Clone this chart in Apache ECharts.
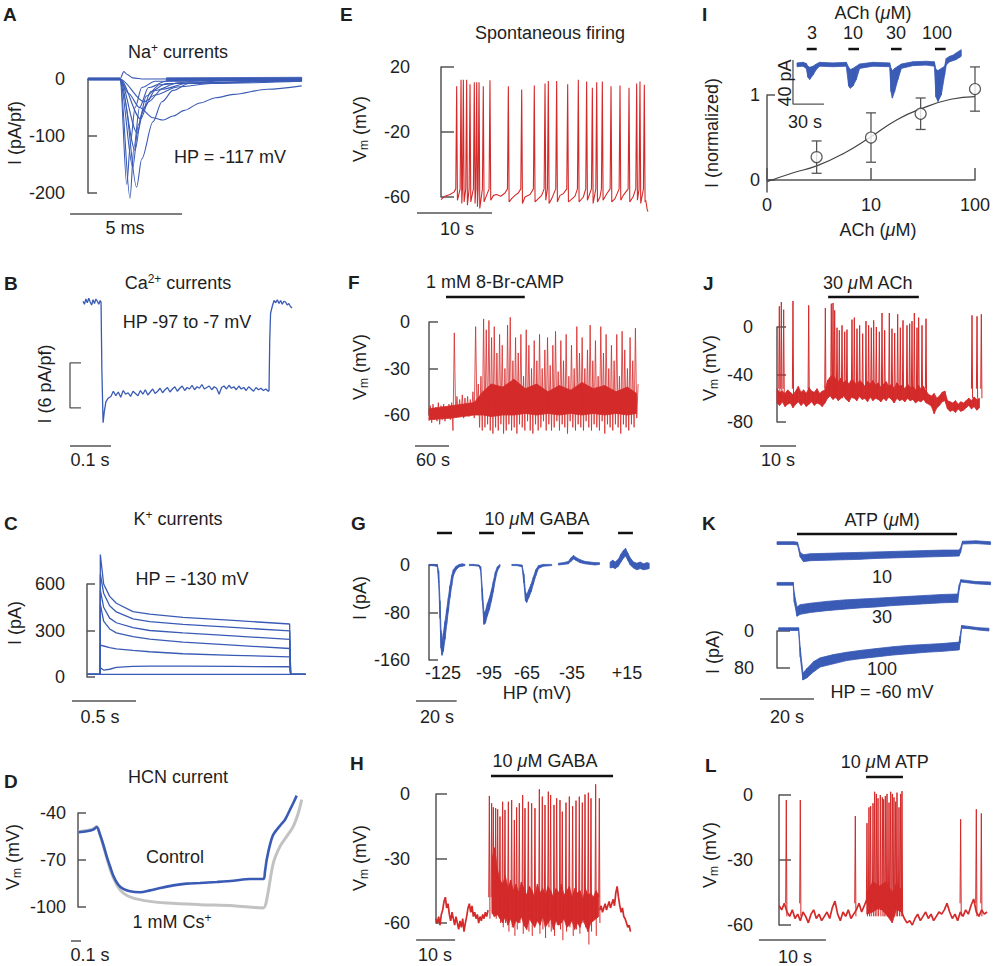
<!DOCTYPE html>
<html>
<head>
<meta charset="utf-8">
<script src="https://cdn.jsdelivr.net/npm/echarts@6/dist/echarts.min.js"></script>
<style>
html, body { margin: 0; background: #fff; }
#chart { width: 999px; height: 966px; }
</style>
</head>
<body>
<div id="chart"></div>
<script>
// ---------- data ----------

// A: Na+ currents, [ms, pA/pF]
var naTraces = [
    [[0,0],[1.43,0],[1.6,13],[1.75,8],[2.0,2],[2.5,0],[9.54,1]],
    [[0,0],[1.43,0],[1.73,-185],[1.9,-110],[2.1,-50],[2.4,-15],[3,-4],[5,-1],[9.54,0]],
    [[0,0],[1.43,0],[1.875,-209],[2.05,-120],[2.3,-50],[2.7,-15],[3.5,-4],[9.54,0]],
    [[0,0],[1.43,0],[1.6,-30],[2.17,-190],[2.4,-140],[2.9,-75],[3.3,-40],[3.8,-20],[4.5,-8],[6,-3],[9.54,-1]],
    [[0,0],[1.43,0],[1.8,-25],[2.3,-50],[2.9,-68],[3.36,-72],[3.8,-65],[4.3,-55],[5,-42],[5.7,-33],[6.5,-27],[8,-18],[9.54,-12]],
    [[0,0],[1.43,0],[2.0,-155],[2.25,-80],[2.6,-30],[3.2,-10],[5,-3],[9.54,0]],
    [[0,0],[1.43,0],[2.1,-125],[2.4,-60],[2.8,-22],[3.5,-8],[9.54,-1]],
    [[0,0],[1.43,0],[2.2,-95],[2.5,-50],[3.0,-20],[4,-7],[9.54,-2]],
    [[0,0],[1.43,0],[2.35,-70],[2.7,-40],[3.3,-18],[4.5,-7],[9.54,-3]],
    [[0,0],[1.43,0],[2.5,-40],[3.0,-28],[4.0,-14],[5.5,-8],[9.54,-4]]
];
var naNoise = [[[0,2,-2],[1.43,2,-2]], [[3.5,2,-3],[9.54,3,-4]]];

// B: Ca2+ current, [s, pA/pF]
var bPre = [0.1,-0.3,0.4,-0.1,0.5,0.0,-0.4,0.3,-0.2,0.4,0.1,-0.3,0.2];
var bPreDt = 0.0035;
var bOn = [[0.044,0],[0.046,-9],[0.049,-16.1],[0.052,-14.6],[0.056,-13.3],[0.062,-12.8]];
var bPlateau = [-12.6,-11.9,-12.5,-12.0,-12.7,-11.8,-12.3,-12.1,-12.6,-11.9,
    -12.2,-12.5,-11.8,-12.3,-11.7,-12.4,-12.0,-11.6,-12.2,-11.9,
    -11.5,-12.1,-11.7,-11.4,-12.0,-11.6,-11.3,-11.9,-11.5,-11.2,
    -11.8,-11.4,-11.6,-11.1,-11.7,-11.3,-11.5,-11.0,-11.6,-11.4,
    -11.2,-11.7,-11.3,-11.5,-12.3,-11.4,-11.2,-11.6,-11.1,-11.5,
    -11.3,-11.7,-11.2,-11.6,-11.4,-11.8,-11.3,-11.6,-11.9,-11.4,
    -11.7,-11.5,-11.8,-11.6,-11.9];
var bPlateauT0 = 0.068, bPlateauDt = 0.006;
var bOff = [[0.4537,-11.8],[0.4555,-5],[0.4575,-1.5],[0.462,-0.5],[0.466,0.2]];
var bPost = [-0.1,0.3,-0.2,0.2,-0.3,0.1,0.0,-0.4,-0.2,-0.6,-0.8];
var bPostT0 = 0.47, bPostDt = 0.004;

// C: K+ currents, [s, pA]
var cTime = [0,0.103,0.104,0.130,0.177,0.229,0.359,0.490,0.75,1.14,1.583,1.591,1.708];
var cTraces = [
    [17,17,790,600,520,476,422,405,385,365,342,17,17],
    [17,17,665,540,460,420,375,357,340,320,297,17,17],
    [17,17,560,450,380,350,318,300,285,265,243,17,17],
    [17,17,470,360,310,285,260,245,225,205,184,17,17],
    [17,17,205,200,190,182,172,163,150,140,130,17,17],
    [17,17,60,45,50,62,68,70,70,68,66,17,17],
    [17,17,17,17,17,17,17,17,17,17,17,17,17]
];

// D: HCN, [s, mV]
var dControl = [[0.003,-52.3],[0.087,-51.7],[0.153,-50.6],[0.187,-48.9],[0.22,-53.8],[0.253,-60.2],[0.287,-67.7],[0.32,-74],[0.353,-80],[0.403,-85.8],[0.453,-88.5],[0.52,-90],[0.62,-90.6],[0.72,-89.4],[0.82,-87.9],[0.953,-86.2],[1.087,-85.1],[1.22,-84.7],[1.387,-84],[1.553,-83.2],[1.72,-82.1],[1.853,-82.1],[1.87,-77.2],[1.887,-69.8],[1.92,-60.2],[1.953,-53.8],[2.02,-48.1],[2.07,-44.3],[2.12,-37.9],[2.153,-33.6],[2.187,-28.9]];
var dCs = [[0.003,-52],[0.087,-51.2],[0.153,-50.2],[0.187,-48.6],[0.22,-53.8],[0.253,-60.9],[0.32,-75.7],[0.387,-85.8],[0.453,-91.1],[0.553,-94.3],[0.72,-96.4],[0.887,-97.5],[1.22,-98.5],[1.553,-99.2],[1.853,-100.6],[1.887,-95.3],[1.953,-72],[2.02,-61.3],[2.087,-54.9],[2.153,-48.5],[2.203,-40],[2.237,-31.5]];

// E: spontaneous firing, [s, mV]
var eBase = [[0,-61.6],[0.53,-59.5],[1.2,-58.5],[1.73,-57],[7.0,-59],[7.42,-58.5],[7.96,-59.5],[8.53,-57.5],[9.42,-61],[9.87,-59],[10.3,-57.5],[11.2,-60],[11.87,-58.5],[12.98,-61],[13.42,-59],[14.76,-61],[15.87,-59],[16.3,-58],[17.4,-61.5],[17.87,-59.5],[18.98,-60],[21.2,-60],[22.1,-58],[23.2,-61],[24.3,-59],[25.6,-60],[27.3,-62],[27.5,-68],[27.6,-69]];
var eSpikeT = [2.09,2.67,2.98,3.42,3.87,4.44,4.76,5.07,5.64,6.53,8.98,10.76,12.44,13.87,14.31,15.42,16.89,18.31,19.42,20.18,20.76,21.51,22.67,23.87,25.07,26.09,26.53,27.11];
var eSpikeV = [8.2,12.2,12.2,12.2,9.4,10.6,10.6,10.6,8.2,11.8,8.2,6.1,8.6,9.8,11.4,11.4,9.4,12.2,11,7.3,10.6,11,8.2,8.6,7.3,9.8,11,9];
var eAhp = [-62,-64,-63,-65,-63,-64,-66,-67,-63,-62,-63,-64,-63,-62,-64,-63,-63,-63,-62,-64,-63,-62,-63,-62,-63,-62,-64,-63];

// F: 8-Br-cAMP, per-bin top / bottom of trace, mV
var fDt = 4.7;
var fTop = [-54,-53,-55,-52,-54,-53,-55,-53,-52,-7,
    -48,-50,-47,-49,-48,-50,-45,-3,-40,-35,
    2,-5,1,-10,-3,-20,-8,-15,-30,-2,
    3,-25,-10,-20,-8,-35,-5,-15,-30,-12,
    -25,-8,-30,-18,-10,-28,-15,-6,-32,-12,
    -25,-8,-35,-15,-30,-3,-20,-10,-30,-18,
    -2,-25,-12,-35,-3,-20,-8,-30,-15,-25,
    -8,-35,-6,-18,-30,-10,-25,-4,-40];
var fLow = [-64,-65,-63,-64,-66,-63,-64,-62,-63,-70,
    -60,-61,-60,-62,-60,-61,-59,-62,-58,-68,
    -70,-68,-66,-70,-72,-68,-70,-66,-72,-70,
    -66,-70,-68,-72,-66,-68,-70,-64,-70,-72,
    -66,-70,-68,-64,-70,-66,-70,-68,-64,-70,
    -66,-68,-72,-64,-68,-70,-66,-68,-70,-64,
    -68,-70,-66,-68,-70,-64,-72,-66,-68,-70,
    -66,-68,-72,-66,-68,-70,-66,-68,-62];
// dense core of the trace, [s, top, bottom]
var fCore = [[0,-56,-63],[40,-54,-62],[80,-52,-60],[95,-45,-60],[110,-40,-61],[130,-42,-60],[150,-37,-60],[170,-43,-59],[190,-40,-60],[210,-45,-59],[230,-41,-60],[250,-44,-59],[270,-39,-60],[290,-43,-59],[310,-41,-60],[330,-45,-59],[350,-42,-60],[366,-46,-59]];

// G: GABA currents, segments of [s, top, bottom] pA
var gSegs = [
    [[0,1,-1],[1.31,1,-1],[2.95,1,-1.5],[4.1,0,-3],[4.75,-10,-30],[5.4,-60,-90],[5.9,-110,-140],[6.4,-130,-152],[7.05,-115,-145],[7.87,-95,-125],[8.69,-75,-100],[9.5,-55,-78],[10.3,-35,-55],[11.15,-18,-35],[11.97,-8,-18],[13.3,-2,-8],[14.9,1,-3],[16.4,2,-2],[17.7,1,-1]],
    [[19.8,1,-1],[21.8,1,-1],[24.6,0,-2],[25.4,-3,-10],[26.2,-40,-60],[27.0,-80,-100],[27.7,-78,-98],[28.7,-65,-85],[29.7,-55,-75],[30.7,-42,-60],[31.6,-28,-45],[32.6,-12,-25],[33.6,-3,-10],[34.9,1,-2]],
    [[40.7,1,-1],[43.1,1,-1],[45.7,0,-3],[46.6,-15,-30],[47.4,-45,-60],[48.0,-50,-63],[49.0,-42,-55],[50.2,-32,-45],[51.3,-20,-32],[52.5,-8,-18],[53.8,-1,-6],[56.2,1,-2],[60.3,1,-1]],
    [[63.6,3,0],[66.1,4,1],[68.5,6,2],[69.7,12,6],[71.0,16,10],[72.6,12,7],[74.3,9,4],[76.7,6,2],[79.2,5,1],[81.6,4,0],[83.8,4,1]],
    [[89.0,5,-5],[90.3,8,-4],[91.5,5,-6],[93.1,10,-2],[94.3,18,5],[95.6,25,12],[96.6,28,15],[97.7,20,8],[98.9,12,0],[100.5,5,-5],[102.1,3,-8],[103.8,5,-6],[105.4,2,-8],[107.0,4,-7],[108.2,3,-6]]
];
var gHpLabels = ['-125', '-95', '-65', '-35', '+15'];
var gDrug = [[3.9,11.3],[24.6,31.9],[45.7,52.1],[68.3,75.7],[92.9,100.2]];

// H: GABA firing, mV
var hDt = 0.342;
var hPre = [-58,-60,-57,-61,-56,-54,-50,-48,-53,-51,-56,-59,-55,-58,-61,-57,-60,-63,-59,-62,
    -58,-64,-60,-57,-53,-51,-55,-52,-57,-55,-58,-56,-60,-57,-59,-56,-58,-55,-57,-54];
var hPostT0 = 42.0;
var hPost = [-54,-52,-55,-53,-51,-54,-52,-50,-53,-51,-49,-52,-46,-43,-48,-52,-55,-53,-57,-58,-60,-62,-61,-64];
var hCoreT0 = 14.36, hCoreDt = 0.684;
var hCoreHi = [-30,-25,-35,-40,-42,-38,-44,-40,-45,-42,-46,-41,-44,-47,-43,-45,-48,-42,-46,-44,-47,-43,-45,-48,-44,-46,-42,-47,-45,-43,-48,-44,-46,-45,-49,-44,-47,-46,-48,-45,-47];
var hCoreLo = [-55,-57,-56,-58,-60,-57,-61,-58,-62,-59,-60,-57,-61,-63,-58,-60,-62,-59,-61,-57,-62,-60,-58,-63,-59,-61,-60,-58,-62,-61,-59,-63,-60,-62,-58,-61,-64,-60,-59,-58,-57];
var hSpikeT = [13.68,14.27,14.7,15.3,15.81,16.41,17.09,17.69,18.55,19.4,20.09,20.68,21.37,22.22,22.82,23.68,24.53,25.38,26.5,27.26,27.95,28.8,29.4,30.26,30.94,31.79,32.39,33.33,34.19,35.04,35.9,36.75,37.52,38.21,39.06,39.74,40.94,41.88];
var hSpikeV = [-0.9,-4.3,-6.2,-6.6,-7.1,-10.5,-3.6,-7.4,-3.6,-2.8,-12.1,-6.2,-4.3,-0.5,-6.6,-3.6,-4.3,-6.6,2.2,-1.2,-5.1,1.1,-0.5,-5.1,-2.0,-2.8,-8.2,-4.0,-1.2,-5.6,-3.1,-1.2,-4.0,-0.2,0.6,-2.0,4.5,-2.0];
var hSpikeLow = [-58,-56,-57,-58,-56,-60,-62,-60,-64,-62,-66,-63,-60,-65,-62,-64,-66,-61,-65,-63,-67,-62,-64,-66,-61,-63,-68,-64,-62,-66,-63,-65,-60,-62,-70,-64,-66,-60];

// I: ACh dose response
var iConc = [3, 10, 30, 100];
var iMean = [0.27, 0.50, 0.78, 1.07];
var iSem = [0.19, 0.29, 0.185, 0.26];
var iFit = [[1,-0.02],[1.73,0.08],[3.05,0.17],[5.4,0.31],[10,0.51],[17.8,0.71],[30.6,0.84],[58.6,0.95],[100,0.98]];
var iInset = [[0,1,-2.5],[5.8,1.5,-2],[9,0.5,-4],[10.6,-2,-12],[12.3,-3,-14],[15.5,-2,-10],[18.7,0,-5],[21.9,1.5,-2],[34.8,1,-2.5],[47.7,1.5,-2],[50,-3,-20],[51.6,-5,-22],[54.2,-4,-20],[57.4,-2,-14],[60.6,0,-4],[73.5,1.5,-2],[89.7,1,-2.5],[91,-4,-25],[92.3,-6,-31],[94.5,-4,-25],[97.7,-2,-14],[101,0,-4],[112,2,-1.5],[125,2.5,-1],[133,2,-2],[134.5,-5,-30],[136.5,-6,-34],[139.7,-4,-28],[142.9,-2,-10],[144.5,5,-1],[147.7,7,2],[151,8,3],[154,10,4],[157.4,12,6],[159,13,7]];
var iDoseLabels = ['3', '10', '30', '100'];
var iDrug = [[9.4,19.1],[49.7,60],[91,101.3],[133.6,143.9]];

// J: ACh firing, mV
var jDt = 0.74;
var jHi = [-52,-55,-54,-56,-53,-55,-57,-54,-50,-55,-53,-56,-51,-54,-55,-52,-56,-54,-53,
    -45,-42,-40,-44,-46,-43,-47,-45,-48,-44,-46,-49,-45,-47,-50,-46,-48,-45,-49,-47,-51,-48,-46,-50,-48,-52,-47,-50,-49,-52,-48,-51,-50,-53,-49,-52,-50,-54,
    -57,-58,-56,-60,-58,-55,-54,
    -62,-63,-64,-62,-65,-63,-64,-62,
    -60,-62,-59,-61,-60];
var jLo = [-64,-66,-63,-67,-65,-64,-68,-65,-63,-66,-64,-67,-65,-63,-66,-64,-65,-67,-64,
    -60,-58,-61,-59,-62,-60,-58,-61,-63,-59,-60,-62,-58,-61,-60,-63,-59,-62,-60,-61,-63,-60,-62,-59,-61,-64,-60,-62,-61,-63,-60,-62,-61,-64,-62,-63,-61,-64,
    -65,-67,-73,-68,-66,-63,-62,
    -69,-71,-70,-72,-69,-71,-70,-68,
    -66,-69,-67,-70,-68];
var jSpikeT = [0.65,1.2,1.85,4.44,8.8,13.43,15.09,15.56,16.02,16.67,17.31,18.06,18.8,19.44,20.83,21.48,22.22,22.96,23.8,24.72,25.46,26.2,26.85,27.59,28.43,29.17,29.91,31.2,31.94,32.69,33.52,34.26,35,36.11,36.85,37.5,38.15,38.89,39.35,40.28,41.39,54.17,55.56,56.76];
var jSpikeV = [17.4,21,14.6,21.9,18.2,16,19.6,20.2,14,-0.6,-2.8,1.4,-4,-2.2,6.2,7.9,-1.4,1.4,-5.6,5,1.4,-0.6,5.6,0,-4,11.8,-2.8,11.8,-1.4,-5,10.7,-0.6,5.6,1.4,2.8,5,11.8,-0.6,7.9,1.4,7,9.8,9,10.7];

// K: ATP currents, [s, top, bottom] pA for 10, 30, 100 uM
var kTraces = [
    [[0,3,-3],[6.2,3,-3],[7.6,2,-4],[8.6,-20,-30],[9.8,-25,-40],[12.3,-23,-38],[18.4,-22,-37],[24.5,-21,-36],[30.7,-20,-35],[36.8,-19,-33],[42.9,-18,-32],[49,-17,-31],[55.2,-16,-30],[61.3,-15,-29],[67.4,-15,-28],[68,-10,-20],[68.7,4,-2],[73.6,5,-1],[79.1,3,-3]],
    [[0,3,-3],[6,3,-3],[6.4,-20,-40],[7.4,-50,-70],[8.6,-45,-66],[12.3,-42,-62],[18.4,-38,-58],[24.5,-35,-55],[30.7,-33,-52],[36.8,-31,-50],[42.9,-29,-47],[49,-27,-45],[55.2,-25,-43],[61.3,-23,-41],[66.9,-22,-40],[67.5,-2,-12],[68.1,9,4],[73.6,5,0],[79.1,4,-2]],
    [[0.6,3,-3],[8,3,-3],[8.6,-40,-60],[9.6,-95,-110],[11.1,-85,-105],[13.6,-70,-92],[16,-62,-82],[20.9,-55,-75],[25.8,-50,-68],[30.7,-46,-64],[36.8,-42,-60],[42.9,-38,-56],[49,-35,-53],[55.2,-33,-50],[61.3,-31,-48],[67.4,-28,-45],[67.8,-15,-30],[68.4,8,2],[71.1,6,1],[74.8,3,-2],[78.5,2,-4]]
];
var kLabels = ['10', '30', '100'];

// L: ATP firing, mV
var lDt = 0.398;
var lBase = [-51,-53,-50,
    -54,-56,-53,-57,-55,-58,-54,-56,-59,-55,-53,-57,-55,-58,-56,-54,-57,-52,-49,-55,-58,-54,-56,-53,-57,-55,
    -53,-50,-54,-51,
    -48,-52,-46,-50,-47,-53,-49,-45,-56,-50,-52,-48,-51,-54,
    -57,-59,-58,-60,
    -57,-55,-58,-56,-54,-57,-55,-58,-56,-54,-55,-53,-50,-54,-57,-55,-58,-54,-56,-53,-55,-51,-48,-54,-56,-53,-55,-54];
var lCore = [[13.1,-45,-55],[14,-40,-54],[15,-42,-52],[16,-40,-55],[16.9,-45,-59],[17.5,-41,-53],[18.4,-44,-54]];
var lSpikeT = [1.09,3.18,11.39,13.13,13.43,13.68,14.03,14.28,14.53,14.78,15.12,15.42,15.62,15.87,16.12,16.42,16.67,16.92,17.16,17.41,17.61,17.91,18.16,18.36,27.11,29.45,30.2];
var lSpikeV = [-2.3,-2.3,-9.7,-13,-5.7,-5.1,-3.8,1.5,0.5,-1.5,0,-1.1,-2,-0.5,0.5,-3.5,1.5,0.5,-1.1,-3.1,1.1,-5.7,0.5,1.8,-11.2,-6.6,-8.5];

// ---------- styling & layout ----------
var FONT = 'Liberation Sans, Arial, Helvetica, sans-serif';
var BLUE = '#3a5bb5';
var RED = '#d42a2a';
var GRAY = '#c2c2c2';
var AXIS = '#555555';
var INK = '#1e1e1e';

// panel geometry: axis px, px of time zero, px per unit, y range in px
var layout = {
    A: {left: 71, right: 305, top: 79, bottom: 193, yMin: -200, yMax: 0, interval: 100, tick: 9, x0: 88, ppu: 22.4},
    B: {left: 65, right: 300, top: 290, bottom: 430, yMin: -17.07, yMax: 1.6, x0: 83, ppu: 410},
    C: {left: 71, right: 310, top: 584, bottom: 677, yMin: 0, yMax: 600, interval: 300, tick: 8, x0: 87, ppu: 128},
    D: {left: 72, right: 305, top: 813, bottom: 907, yMin: -100, yMax: -40, interval: 30, tick: 8, x0: 78, ppu: 100},
    E: {left: 416, right: 650, top: 67, bottom: 197, yMin: -60, yMax: 20, interval: 40, tick: 13, x0: 441, ppu: 7.5},
    F: {left: 416, right: 645, top: 322, bottom: 415, yMin: -60, yMax: 0, interval: 30, tick: 9, x0: 429, ppu: 0.5667},
    G: {left: 416, right: 650, top: 565, bottom: 660, yMin: -160, yMax: 0, interval: 80, tick: 9, x0: 429, ppu: 2.035},
    H: {left: 416, right: 640, top: 794, bottom: 923, yMin: -60, yMax: 0, interval: 30, tick: 11, x0: 436, ppu: 3.9},
    Ii: {left: 790, right: 965, top: 40, bottom: 110, yMin: -41.8, yMax: 21.8, x0: 797, ppu: 1.033},
    J: {left: 759, right: 995, top: 327, bottom: 422, yMin: -80, yMax: 0, interval: 40, tick: 9, x0: 777, ppu: 3.6},
    K: {left: 760, right: 995, top: 631, bottom: 668, yMin: -80, yMax: 0, interval: 80, tick: 13, x0: 777, ppu: 2.7, fmt: function (v) { return String(Math.abs(v)); }},
    L: {left: 759, right: 995, top: 795, bottom: 925, yMin: -60, yMax: 0, interval: 30, tick: 12, x0: 779, ppu: 6.7}
};
var kOffsets = [190, 102, 4];

var option = {animation: false, grid: [], xAxis: [], yAxis: [], series: [], graphic: {elements: []}};

function addPanel(c) {
    var g = option.grid.length;
    option.grid.push({left: c.left, top: c.top, width: c.right - c.left, height: c.bottom - c.top, outerBoundsMode: 'none'});
    option.xAxis.push({gridIndex: g, type: 'value', min: (c.left - c.x0) / c.ppu, max: (c.right - c.x0) / c.ppu, show: false});
    option.yAxis.push({
        gridIndex: g, type: 'value', min: c.yMin, max: c.yMax, interval: c.interval, show: !!c.interval,
        axisLine: {show: true, lineStyle: {color: AXIS, width: 1.5}},
        axisTick: {show: true, inside: true, length: c.tick, lineStyle: {color: AXIS, width: 1.5}},
        axisLabel: {margin: 6, fontSize: 18, color: INK, fontFamily: FONT, formatter: c.fmt},
        splitLine: {show: false}
    });
    c.g = g;
    c.hw = 0.6 / c.ppu;
    return g;
}

function line(g, data, color, width, extra) {
    var s = {type: 'line', xAxisIndex: g, yAxisIndex: g, data: data, symbol: 'none', clip: false, silent: true,
        lineStyle: {color: color, width: width}, itemStyle: {color: color}, z: 2};
    for (var k in extra) s[k] = extra[k];
    option.series.push(s);
}

function bandItem(params, api) {
    var i = params.dataIndexInside;
    if (i >= params.dataInsideLength - 1) return null;
    var c = api.visual('color');
    var a = api.coord([api.value(0, i), api.value(1, i)]);
    var b = api.coord([api.value(0, i + 1), api.value(1, i + 1)]);
    var d = api.coord([api.value(0, i + 1), api.value(2, i + 1)]);
    var e = api.coord([api.value(0, i), api.value(2, i)]);
    return {type: 'polygon', shape: {points: [a, b, d, e]}, style: {fill: c, stroke: c, lineWidth: 0.8, opacity: api.visual('opacity')}};
}

function band(g, data, color, opacity) {
    option.series.push({type: 'custom', xAxisIndex: g, yAxisIndex: g, data: data, clip: false, silent: true,
        encode: {x: 0, y: [1, 2]}, itemStyle: {color: color, opacity: opacity || 1}, renderItem: bandItem, z: 2});
}

function hbar(g, x1, x2, y, color, w) {
    line(g, [[x1, y], [x2, y]], color, w, {z: 3});
}

function spikeData(ts, vs, pre, post, hw) {
    var out = [];
    ts.forEach(function (t, i) {
        var a = Array.isArray(pre) ? pre[i] : pre;
        var b = Array.isArray(post) ? post[i] : post;
        out.push([t - hw, a], [t, vs[i]], [t + hw, b], [t + hw, '-']);
    });
    return out;
}

function binBand(hi, lo, t0, dt) {
    return hi.map(function (h, i) { return [t0 + i * dt, h, lo[i]]; });
}

function series(vals, t0, dt) {
    return vals.map(function (v, i) { return [t0 + i * dt, v]; });
}

// ---------- A ----------
var A = layout.A; addPanel(A);
naNoise.forEach(function (d) { band(A.g, d, BLUE); });
naTraces.forEach(function (d) { line(A.g, d, BLUE, 1.1, {smooth: 0.3, smoothMonotone: 'x'}); });
hbar(A.g, -0.8, 4.2, -237, AXIS, 1.5);

// ---------- B ----------
var B = layout.B; addPanel(B);
var bTrace = series(bPre, 0, bPreDt)
    .concat(bOn)
    .concat(series(bPlateau, bPlateauT0, bPlateauDt))
    .concat(bOff)
    .concat(series(bPost, bPostT0, bPostDt));
line(B.g, bTrace, BLUE, 1.3);
line(B.g, [[-0.0049, -8.13], [-0.0317, -8.13], [-0.0317, -14.13], [-0.0049, -14.13]], AXIS, 1.3);
hbar(B.g, -0.0317, 0.0683, -19.2, AXIS, 1.5);

// ---------- C ----------
var C = layout.C; addPanel(C);
cTraces.forEach(function (vals) {
    line(C.g, cTime.map(function (t, i) { return [t, vals[i]]; }), BLUE, 1.3);
});
hbar(C.g, -0.117, 0.383, -155, AXIS, 1.5);

// ---------- D ----------
var D = layout.D; addPanel(D);
line(D.g, dCs, GRAY, 3, {smooth: 0.3});
line(D.g, dControl, BLUE, 2.6, {smooth: 0.3});
hbar(D.g, -0.07, 0.03, -121.7, AXIS, 1.5);

// ---------- E ----------
var E = layout.E; addPanel(E);
var ePts = eBase.slice();
eSpikeT.forEach(function (t, i) {
    ePts.push([t - 0.12, -55], [t, eSpikeV[i]], [t + 0.1, eAhp[i]]);
});
ePts.sort(function (a, b) { return a[0] - b[0]; });
line(E.g, ePts, RED, 1.1);
hbar(E.g, -3.2, 6.8, -69.8, AXIS, 1.5);

// ---------- F ----------
var F = layout.F; addPanel(F);
band(F.g, fCore, RED, 0.75);
var fPts = [];
fTop.forEach(function (v, i) { fPts.push([i * fDt, fLow[i]], [i * fDt + fDt * 0.5, v]); });
line(F.g, fPts, RED, 1, {lineStyle: {color: RED, width: 1, opacity: 0.8}});
hbar(F.g, -24.7, 35.3, -80, AXIS, 1.5);
hbar(F.g, 30, 169, 16.1, '#111', 2.5);

// ---------- G ----------
var G = layout.G; addPanel(G);
gSegs.forEach(function (d) { band(G.g, d, BLUE); });
gDrug.forEach(function (d) { hbar(G.g, d[0], d[1], 53.9, '#111', 2.5); });
hbar(G.g, -6.4, 13.6, -229, AXIS, 1.5);

// ---------- H ----------
var H = layout.H; addPanel(H);
line(H.g, series(hPre, 0, hDt), RED, 1.7);
line(H.g, series(hPost, hPostT0, hDt), RED, 1.7);
band(H.g, binBand(hCoreHi, hCoreLo, hCoreT0, hCoreDt), RED, 0.9);
line(H.g, spikeData(hSpikeT, hSpikeV, -48, hSpikeLow, H.hw), RED, 1);
hbar(H.g, 14.1, 45.4, 8.4, '#111', 2.5);
hbar(H.g, -5.1, 4.9, -67.9, AXIS, 1.5);

// ---------- I ----------
var gi = option.grid.length;
option.grid.push({left: 767, top: 95, width: 208, height: 97, outerBoundsMode: 'none'});
option.xAxis.push({gridIndex: gi, type: 'log', logBase: 10, min: 1, max: 100,
    axisLine: {show: true, lineStyle: {color: AXIS, width: 1.5}},
    axisTick: {show: true, inside: true, length: 12, lineStyle: {color: AXIS, width: 1.5}},
    axisLabel: {margin: 4, fontSize: 18, color: INK, fontFamily: FONT, formatter: function (v) { return v === 1 ? '0' : String(v); }},
    splitLine: {show: false}, minorTick: {show: false}});
option.yAxis.push({gridIndex: gi, type: 'value', min: -0.14, max: 1,
    axisLine: {show: true, lineStyle: {color: AXIS, width: 1.5}},
    axisTick: {show: true, inside: true, length: 8, customValues: [0, 1], lineStyle: {color: AXIS, width: 1.5}},
    axisLabel: {margin: 7, fontSize: 18, color: INK, fontFamily: FONT, customValues: [0, 1]},
    splitLine: {show: false}});
line(gi, iFit, '#444', 1.2, {smooth: true});
option.series.push({type: 'custom', xAxisIndex: gi, yAxisIndex: gi, silent: true, clip: false, z: 3,
    data: iConc.map(function (c, i) { return [c, iMean[i] - iSem[i], iMean[i] + iSem[i]]; }),
    encode: {x: 0, y: [1, 2]},
    renderItem: function (params, api) {
        var lo = api.coord([api.value(0), api.value(1)]);
        var hi = api.coord([api.value(0), api.value(2)]);
        var st = {stroke: '#555', lineWidth: 1.3};
        return {type: 'group', children: [
            {type: 'line', shape: {x1: lo[0], y1: lo[1], x2: hi[0], y2: hi[1]}, style: st},
            {type: 'line', shape: {x1: lo[0] - 5, y1: lo[1], x2: lo[0] + 5, y2: lo[1]}, style: st},
            {type: 'line', shape: {x1: hi[0] - 5, y1: hi[1], x2: hi[0] + 5, y2: hi[1]}, style: st}
        ]};
    }});
option.series.push({type: 'scatter', xAxisIndex: gi, yAxisIndex: gi, silent: true, clip: false, z: 4,
    data: iConc.map(function (c, i) { return [c, iMean[i]]; }),
    symbol: 'circle', symbolSize: 11, itemStyle: {color: '#fff', borderColor: '#333', borderWidth: 1.2}});

var Ii = layout.Ii; addPanel(Ii);
band(Ii.g, iInset, BLUE);
iDrug.forEach(function (d) { hbar(Ii.g, d[0], d[1], 13.6, '#111', 2.5); });
line(Ii.g, [[-3.9, 3.6], [-3.9, -36.4], [26.1, -36.4]], AXIS, 1.3);

// ---------- J ----------
var J = layout.J; addPanel(J);
band(J.g, binBand(jHi, jLo, 0, jDt), RED);
line(J.g, spikeData(jSpikeT, jSpikeV, -52, -60, J.hw), RED, 1);
hbar(J.g, 14.2, 39.4, 25.3, '#111', 2.5);
hbar(J.g, -4.7, 5.3, -100.2, AXIS, 1.5);

// ---------- K ----------
var K = layout.K; addPanel(K);
kTraces.forEach(function (d, k) {
    band(K.g, d.map(function (p) { return [p[0], p[1] + kOffsets[k], p[2] + kOffsets[k]]; }), BLUE);
});
hbar(K.g, 7.4, 66.7, 210, '#111', 2.5);
hbar(K.g, -6.3, 13.7, -147, AXIS, 1.5);

// ---------- L ----------
var L = layout.L; addPanel(L);
band(L.g, lCore, RED, 0.9);
line(L.g, series(lBase, 0, lDt), RED, 1.7);
line(L.g, spikeData(lSpikeT, lSpikeV, -50, -56, L.hw), RED, 1);
hbar(L.g, 13, 18.5, 8.3, '#111', 2.5);
hbar(L.g, -3, 7, -66.9, AXIS, 1.5);

// ---------- text ----------
var RICH = {
    sup: {fontSize: 12, fontFamily: FONT, fill: INK, verticalAlign: 'top', lineHeight: 12},
    sub: {fontSize: 12, fontFamily: FONT, fill: INK, verticalAlign: 'bottom', lineHeight: 12},
    it: {fontSize: 18, fontFamily: FONT, fill: INK, fontStyle: 'italic'}
};
function T(x, y, text, o) {
    o = o || {};
    option.graphic.elements.push({type: 'text', x: x, y: y, rotation: o.rot || 0, silent: true, z: 10,
        style: {text: text, fontSize: o.size || 18, fontWeight: o.bold ? 'bold' : 'normal', fontFamily: FONT, fill: INK,
            align: o.align || 'center', verticalAlign: 'middle', textAlign: o.align || 'center', textVerticalAlign: 'middle',
            lineHeight: 20, rich: RICH}});
}
var UP = Math.PI / 2;
[['A', 3, 14], ['B', 4, 283], ['C', 4, 523], ['D', 4, 781], ['E', 340, 14], ['F', 348, 282], ['G', 351, 523], ['H', 350, 763],
 ['I', 702, 14], ['J', 703, 283], ['K', 702, 523], ['L', 705, 765]].forEach(function (p) {
    T(p[1], p[2], p[0], {bold: true, size: 19, align: 'left'});
});

T(178, 52, 'Na{sup|+} currents');
T(230, 157, 'HP = -117 mV');
T(15, 133, 'I (pA/pf)', {rot: UP});
T(125, 228, '5 ms');

T(178, 283, 'Ca{sup|2+} currents');
T(187, 322, 'HP -97 to -7 mV');
T(45, 384, 'I (6 pA/pf)', {rot: UP});
T(90, 460, '0.1 s');

T(178, 519, 'K{sup|+} currents');
T(192, 579, 'HP = -130 mV');
T(15, 623, 'I (pA)', {rot: UP});
T(100, 717, '0.5 s');

T(178, 777, 'HCN current');
T(175, 857, 'Control');
T(172, 922, '1 mM Cs{sup|+}');
T(13, 857, 'V{sub|m} (mV)', {rot: UP});
T(90, 955, '0.1 s');

T(550, 33, 'Spontaneous firing');
T(360, 129, 'V{sub|m} (mV)', {rot: UP});
T(457, 229, '10 s');

T(495, 282, '1 mM 8-Br-cAMP');
T(360, 367, 'V{sub|m} (mV)', {rot: UP});
T(433, 460, '60 s');

T(537, 519, '10 {it|μ}M GABA');
T(360, 598, 'I (pA)', {rot: UP});
[443, 489, 527, 572, 627].forEach(function (x, i) { T(x, 673, gHpLabels[i]); });
T(537, 693, 'HP (mV)');
T(437, 717, '20 s');

T(545, 761, '10 {it|μ}M GABA');
T(360, 858, 'V{sub|m} (mV)', {rot: UP});
T(435, 955, '10 s');

T(873, 13, 'ACh ({it|μ}M)');
[812, 853, 896, 937].forEach(function (x, i) { T(x, 33, iDoseLabels[i]); });
T(785, 83, '40 pA', {rot: UP});
T(805, 122, '30 s');
T(712, 133, 'I (normalized)', {rot: UP});
T(878, 230, 'ACh ({it|μ}M)');

T(868, 283, '30 {it|μ}M ACh');
T(710, 368, 'V{sub|m} (mV)', {rot: UP});
T(778, 460, '10 s');

T(882, 520, 'ATP ({it|μ}M)');
[577, 617, 669].forEach(function (y, i) { T(882, y, kLabels[i]); });
T(882, 692, 'HP = -60 mV');
T(713, 652, 'I (pA)', {rot: UP});
T(787, 717, '20 s');

T(885, 762, '10 {it|μ}M ATP');
T(710, 855, 'V{sub|m} (mV)', {rot: UP});
T(795, 957, '10 s');

var chart = echarts.init(document.getElementById('chart'), null, {renderer: 'svg'});
chart.setOption(option);
</script>
</body>
</html>
